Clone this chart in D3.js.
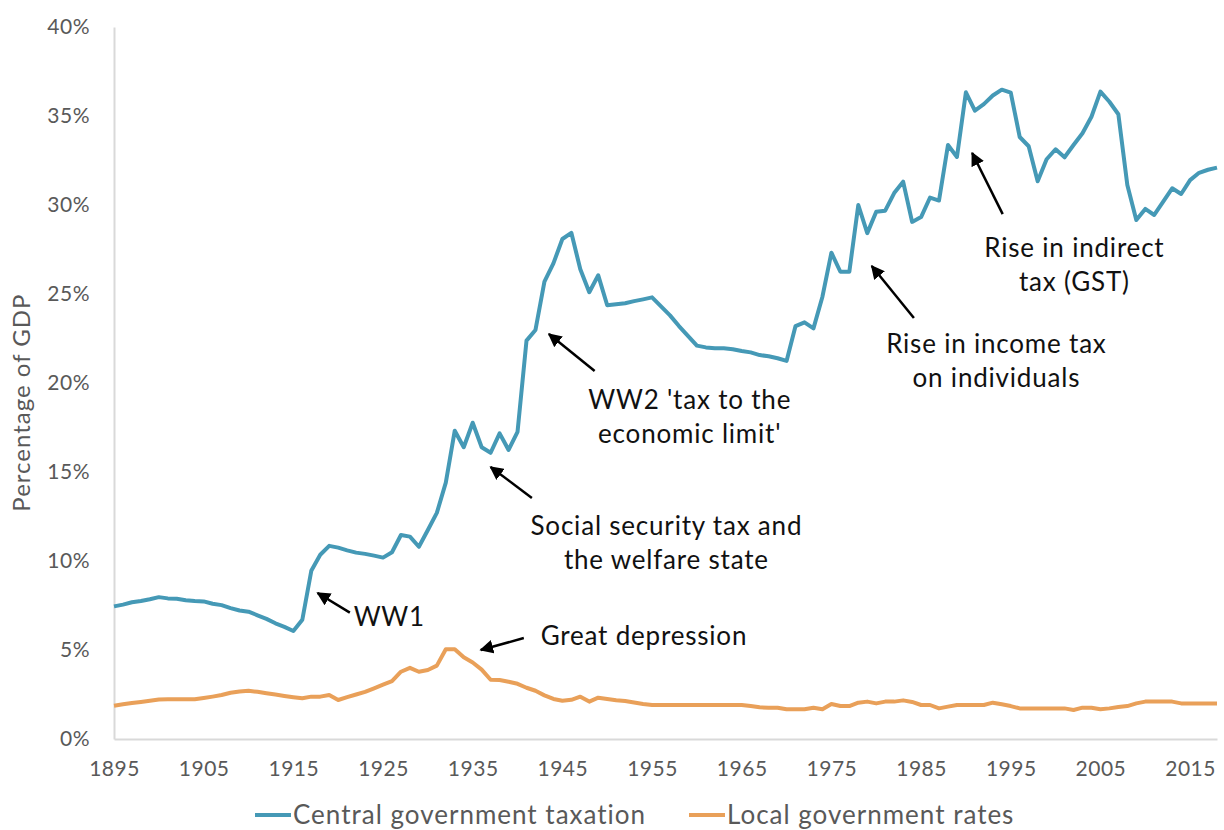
<!DOCTYPE html>
<html>
<head>
<meta charset="utf-8">
<script src="https://cdn.jsdelivr.net/npm/d3@7"></script>
<style>
  body { margin: 0; background: #fff; }
  svg text { font-family: Lato, "Open Sans", sans-serif; }
</style>
</head>
<body>
<script>
// years 1895..2018, one point per year
var years = d3.range(1895, 2019);

// central government taxation, % of GDP
var central = [
  7.45, 7.55, 7.68, 7.75, 7.85, 7.97, 7.9, 7.88, 7.8, 7.75,
  7.73, 7.6, 7.52, 7.35, 7.22, 7.15, 6.95, 6.75, 6.5, 6.3,
  6.07, 6.7, 9.45, 10.35, 10.85, 10.75, 10.6, 10.47, 10.4, 10.3,
  10.19, 10.49, 11.46, 11.37, 10.8, 11.74, 12.7, 14.4, 17.32, 16.39,
  17.77, 16.39, 16.08, 17.17, 16.24, 17.26, 22.38, 22.98, 25.69, 26.72,
  28.09, 28.44, 26.39, 25.1, 26.05, 24.37, 24.42, 24.48, 24.6, 24.7,
  24.81, 24.3, 23.8, 23.2, 22.65, 22.1, 22.0, 21.95, 21.95, 21.9,
  21.8, 21.72, 21.57, 21.5, 21.39, 21.24, 23.2, 23.41, 23.07, 24.85,
  27.32, 26.25, 26.25, 30.0, 28.42, 29.62, 29.68, 30.67, 31.31, 29.05,
  29.32, 30.42, 30.25, 33.37, 32.7, 36.33, 35.3, 35.67, 36.15, 36.48,
  36.31, 33.82, 33.3, 31.33, 32.57, 33.13, 32.68, 33.37, 34.03, 34.96,
  36.37, 35.8, 35.1, 31.12, 29.16, 29.78, 29.44, 30.19, 30.94, 30.62,
  31.4, 31.81, 31.98, 32.1
];

// local government rates, % of GDP
var local = [
  1.87, 1.95, 2.02, 2.08, 2.15, 2.22, 2.23, 2.23, 2.23, 2.23,
  2.3, 2.38, 2.47, 2.6, 2.67, 2.71, 2.65, 2.57, 2.5, 2.42,
  2.35, 2.29, 2.38, 2.38, 2.47, 2.19, 2.35, 2.5, 2.65, 2.85,
  3.05, 3.25, 3.78, 4.0, 3.78, 3.88, 4.12, 5.04, 5.04, 4.59,
  4.3, 3.9, 3.33, 3.31, 3.22, 3.1, 2.88, 2.71, 2.45, 2.25,
  2.15, 2.2, 2.38, 2.1, 2.32, 2.25, 2.18, 2.13, 2.05, 1.97,
  1.91, 1.91, 1.91, 1.91, 1.91, 1.91, 1.91, 1.91, 1.91, 1.91,
  1.91, 1.85, 1.78, 1.76, 1.76, 1.67, 1.67, 1.67, 1.76, 1.67,
  1.97, 1.85, 1.85, 2.04, 2.1, 2.0, 2.1, 2.1, 2.17, 2.08,
  1.91, 1.91, 1.72, 1.82, 1.91, 1.91, 1.91, 1.91, 2.04, 1.95,
  1.85, 1.72, 1.72, 1.72, 1.72, 1.72, 1.72, 1.63, 1.76, 1.76,
  1.67, 1.72, 1.8, 1.85, 2.0, 2.1, 2.1, 2.1, 2.1, 2.0,
  2.0, 2.0, 2.0, 2.0
];

var yTicks = [0, 5, 10, 15, 20, 25, 30, 35, 40];
var xTicks = [1895, 1905, 1915, 1925, 1935, 1945, 1955, 1965, 1975, 1985, 1995, 2005, 2015];
var seriesNames = ['Central government taxation', 'Local government rates'];

// annotation text, arrow from tail to head and text centre, all in data units
var notes = [
  { lines: ['WW1'], tx: 1925.7, ty: 6.85, tail: [1921.3, 7.1], head: [1917.7, 8.2] },
  { lines: ['Great depression'], tx: 1954.1, ty: 5.79, tail: [1940.7, 5.67], head: [1935.9, 5.0] },
  { lines: ['Social security tax and', 'the welfare state'], tx: 1956.6, ty: 11.0, tail: [1941.6, 13.54], head: [1937.0, 15.28] },
  { lines: ["WW2 'tax to the", "economic limit'"], tx: 1959.2, ty: 18.09, tail: [1948.6, 20.67], head: [1943.5, 22.75] },
  { lines: ['Rise in income tax', 'on individuals'], tx: 1993.4, ty: 21.24, tail: [1984.2, 23.65], head: [1979.5, 26.57] },
  { lines: ['Rise in indirect', 'tax (GST)'], tx: 2002.1, ty: 26.66, tail: [1994.1, 29.49], head: [1990.7, 32.92] }
];

var W = 1224, H = 830;
var margin = { left: 114, top: 27, right: 7, bottom: 91 };
var colors = ['#4599b6', '#e9a059'];

var svg = d3.select('body').append('svg')
  .attr('width', W)
  .attr('height', H);

var x = d3.scaleLinear()
  .domain([1895, 2018])
  .range([margin.left, W - margin.right]);

var y = d3.scaleLinear()
  .domain([0, 40])
  .range([H - margin.bottom, margin.top]);

// axes
var yAxis = d3.axisLeft(y).tickValues(yTicks).tickSize(0).tickPadding(24)
  .tickFormat(function(d) { return d + '%'; });
var xAxis = d3.axisBottom(x).tickValues(xTicks).tickSize(0).tickPadding(22)
  .tickFormat(d3.format('d'));

var gy = svg.append('g')
  .attr('transform', 'translate(' + margin.left + ',0)')
  .call(yAxis);
var gx = svg.append('g')
  .attr('transform', 'translate(0,' + (H - margin.bottom) + ')')
  .call(xAxis);

[gx, gy].forEach(function(g) {
  g.select('.domain').attr('stroke', '#d9d9d9').attr('stroke-width', 2);
  g.selectAll('text')
    .attr('fill', '#595959')
    .style('font-size', '21px')
    .style('letter-spacing', '0.5px');
});

svg.append('text')
  .attr('transform', 'translate(30,' + y(18.9) + ') rotate(-90)')
  .attr('text-anchor', 'middle')
  .attr('fill', '#595959')
  .style('font-size', '24px')
  .style('letter-spacing', '1px')
  .text('Percentage of GDP');

// lines
var line = d3.line()
  .x(function(d, i) { return x(years[i]); })
  .y(function(d) { return y(d); });

[central, local].forEach(function(s, i) {
  svg.append('path')
    .datum(s)
    .attr('fill', 'none')
    .attr('stroke', colors[i])
    .attr('stroke-width', 4)
    .attr('stroke-linejoin', 'round')
    .attr('d', line);
});

// annotations
svg.append('defs').append('marker')
  .attr('id', 'arrow')
  .attr('viewBox', '0 0 10 10')
  .attr('refX', 9).attr('refY', 5)
  .attr('markerWidth', 5.5).attr('markerHeight', 5.5)
  .attr('orient', 'auto')
  .append('path')
  .attr('d', 'M0,0 L10,5 L0,10 z')
  .attr('fill', '#000');

notes.forEach(function(n) {
  svg.append('line')
    .attr('x1', x(n.tail[0])).attr('y1', y(n.tail[1]))
    .attr('x2', x(n.head[0])).attr('y2', y(n.head[1]))
    .attr('stroke', '#000')
    .attr('stroke-width', 2.5)
    .attr('marker-end', 'url(#arrow)');

  var t = svg.append('text')
    .attr('text-anchor', 'middle')
    .attr('fill', '#111')
    .style('font-size', '26px')
    .style('letter-spacing', '0.8px');
  var lh = 34;
  var y0 = y(n.ty) - (n.lines.length - 1) * lh / 2;
  n.lines.forEach(function(s, k) {
    t.append('tspan')
      .attr('x', x(n.tx))
      .attr('y', y0 + k * lh)
      .attr('dy', '0.35em')
      .text(s);
  });
});

// legend
var leg = svg.append('g').attr('transform', 'translate(0,815)');
var legX = [255, 689];
seriesNames.forEach(function(name, i) {
  leg.append('line')
    .attr('x1', legX[i]).attr('x2', legX[i] + 36)
    .attr('stroke', colors[i]).attr('stroke-width', 4);
  leg.append('text')
    .attr('x', legX[i] + 38)
    .attr('dy', '0.35em')
    .attr('fill', '#595959')
    .style('font-size', '26px')
    .style('letter-spacing', '1px')
    .text(name);
});
</script>
</body>
</html>
